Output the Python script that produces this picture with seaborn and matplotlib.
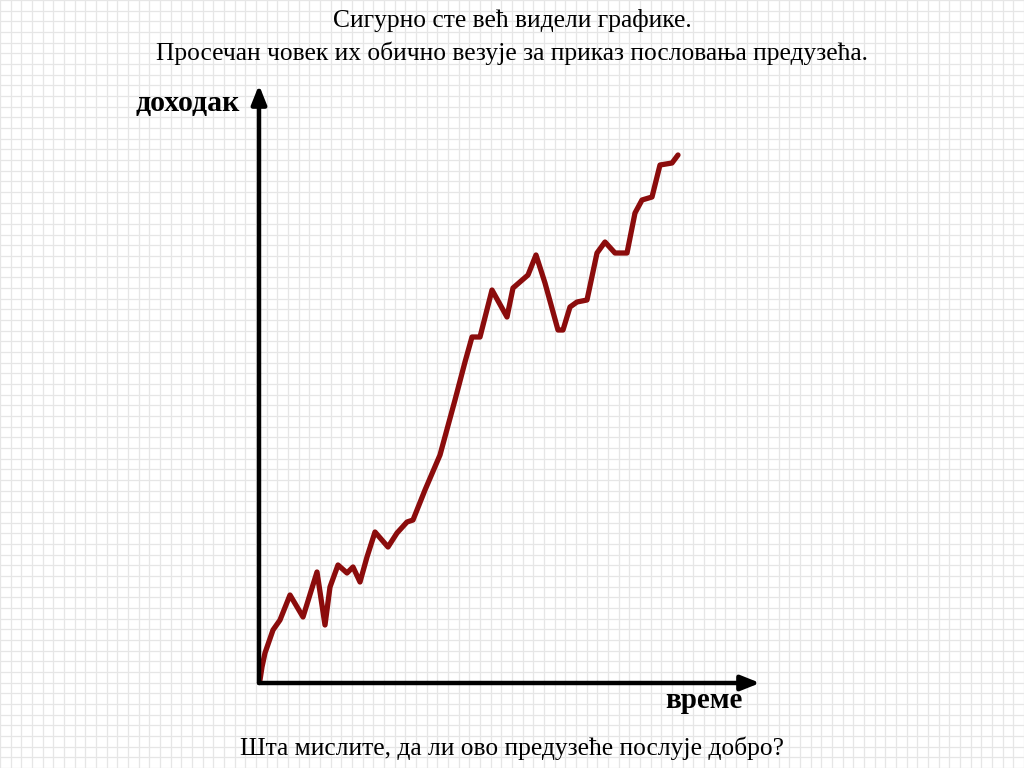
import numpy as np
import pandas as pd
import matplotlib
matplotlib.use("Agg")
import matplotlib.pyplot as plt
import seaborn as sns

# ── Data (time vs. income, arbitrary units) ────────────────────────────────
time = [1, 3, 6, 14, 21, 31, 44, 58, 66, 71, 79, 88, 94, 101, 108, 116,
        129, 138, 148, 154, 166, 181, 196, 206, 213, 221, 233, 248, 254,
        269, 277, 286, 299, 304, 311, 318, 328, 338, 346, 356, 368, 376,
        383, 393, 401, 413, 419]
income = [3, 16, 30, 53, 63, 88, 66, 111, 58, 96, 118, 110, 116, 101, 126,
          151, 136, 150, 161, 163, 193, 228, 283, 321, 346, 346, 393, 366,
          395, 408, 428, 400, 353, 353, 376, 381, 383, 430, 441, 430, 430,
          470, 483, 486, 518, 520, 528]

TITLE_1 = "Сигурно сте већ видели графике."
TITLE_2 = "Просечан човек их обично везује за приказ пословања предузећа."
Y_LABEL = "доходак"
X_LABEL = "време"
QUESTION = "Шта мислите, да ли ово предузеће послује добро?"

df = pd.DataFrame({"time": time, "income": income})

sns.set_style("white")
plt.rcParams["font.family"] = ["Liberation Serif", "DejaVu Serif"]
plt.rcParams["text.color"] = "black"

W, H = 1024, 768
fig = plt.figure(figsize=(W / 100, H / 100), dpi=100)

# ── squared-paper background ────────────────────────────────────────────────
bg = fig.add_axes([0, 0, 1, 1])
bg.set_xlim(0, W)
bg.set_ylim(H, 0)
step = W / 96
for gx in np.arange(0, W + 1, step):
    bg.axvline(gx, color="#e6e6e6", lw=0.9, zorder=0)
for gy in np.arange(0, H + 1, step):
    bg.axhline(gy, color="#e6e6e6", lw=0.9, zorder=0)
bg.axis("off")

# ── main chart ──────────────────────────────────────────────────────────────
x0, y0, x1, y1 = 259, 683, 760, 85
ax = fig.add_axes([x0 / W, (H - y0) / H, (x1 - x0) / W, (y0 - y1) / H])
ax.patch.set_alpha(0)
ax.set_xlim(0, x1 - x0)
ax.set_ylim(0, y0 - y1)
sns.lineplot(data=df, x="time", y="income", ax=ax, color="#8b0c0c",
             lw=3.8, solid_joinstyle="round", solid_capstyle="round")
for s in ax.spines.values():
    s.set_visible(False)
ax.set_xticks([])
ax.set_yticks([])
ax.set_xlabel("")
ax.set_ylabel("")

arrow = dict(arrowstyle="-|>,head_length=0.75,head_width=0.3", lw=3.2,
             color="black", mutation_scale=15, shrinkA=0, shrinkB=0)
ax.annotate("", xy=(0, 1), xytext=(0, 0), xycoords="axes fraction",
            arrowprops=arrow)
ax.annotate("", xy=(1, 0), xytext=(0, 0), xycoords="axes fraction",
            arrowprops=arrow)

# ── texts ───────────────────────────────────────────────────────────────────
fig.text(512 / W, 1 - 21 / H, TITLE_1, ha="center", va="center", fontsize=18.4)
fig.text(512 / W, 1 - 53 / H, TITLE_2, ha="center", va="center", fontsize=18.4)
fig.text(240 / W, 1 - 103 / H, Y_LABEL, ha="right", va="center",
         fontsize=21.5, fontweight="bold")
fig.text(743 / W, 1 - 700 / H, X_LABEL, ha="right", va="center",
         fontsize=21, fontweight="bold")
fig.text(512 / W, 1 - 748 / H, QUESTION, ha="center", va="center",
         fontsize=18.4)

fig.savefig("out.png", dpi=100)
